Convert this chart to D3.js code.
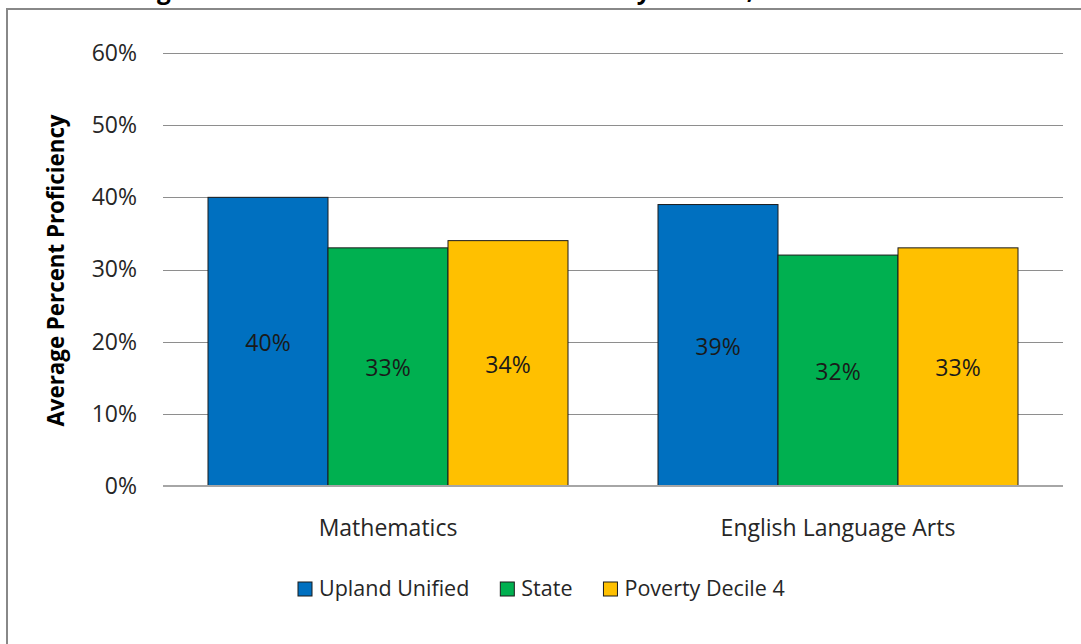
<!DOCTYPE html>
<html>
<head>
<meta charset="utf-8">
<script src="https://cdn.jsdelivr.net/npm/d3@7"></script>
<style>
  body { margin: 0; background: #fff; }
  text { font-family: "Open Sans", "Noto Sans", sans-serif; }
</style>
</head>
<body>
<svg id="chart" width="1081" height="644"></svg>
<script>
// Average percent proficiency by subject
const categories = ["Mathematics", "English Language Arts"];
const seriesNames = ["Upland Unified", "State", "Poverty Decile 4"];
const uplandUnified = [40, 39];
const stateAvg = [33, 32];
const povertyDecile4 = [34, 33];
const yTicks = [0, 10, 20, 30, 40, 50, 60];
const seriesColors = ["#0070C0", "#00B050", "#FFC000"];
const titleText = "Average Percent Proficient in Math and ELA by District, 2011";

const seriesValues = [uplandUnified, stateAvg, povertyDecile4];
const rows = categories.map((c, i) => ({
  category: c,
  values: seriesNames.map((s, j) => ({ series: s, value: seriesValues[j][i], color: seriesColors[j] }))
}));

const W = 1081, H = 644;
const plot = { left: 163, right: 1063, top: 53, bottom: 486 };

const svg = d3.select("#chart");
svg.append("rect").attr("width", W).attr("height", H).attr("fill", "#fff");

// title, sitting mostly above the top edge of the chart box
const title = svg.append("text")
  .attr("y", -1)
  .attr("font-size", 22)
  .attr("font-weight", "bold")
  .attr("fill", "#000")
  .text(titleText);
{
  const node = title.node();
  const gIdx = titleText.indexOf("g");
  const yIdx = titleText.indexOf("y", gIdx);
  const span = node.getSubStringLength(gIdx, yIdx - gIdx);
  const size = 22 * 480 / span;
  title.attr("font-size", size);
  const gStart = node.getSubStringLength(0, gIdx);
  title.attr("x", 157 - gStart);
}

// chart frame
svg.append("path")
  .attr("d", `M7,${H} V9 H${W}`)
  .attr("fill", "none")
  .attr("stroke", "#888")
  .attr("stroke-width", 2);

const y = d3.scaleLinear().domain([0, 60]).range([plot.bottom, plot.top]);
const x0 = d3.scaleBand().domain(categories).range([plot.left, plot.right]).padding(0);
const x1 = d3.scaleBand().domain(seriesNames).range([0, x0.bandwidth()])
  .paddingInner(0).paddingOuter(0.375);

// gridlines + tick labels
const yAxis = d3.axisLeft(y)
  .tickValues(yTicks)
  .tickSize(-(plot.right - plot.left))
  .tickPadding(26)
  .tickFormat(d => d + "%");

const gy = svg.append("g")
  .attr("transform", `translate(${plot.left},0)`)
  .call(yAxis);
gy.select(".domain").remove();
gy.selectAll(".tick line")
  .attr("stroke", "#8e8e8e")
  .attr("stroke-width", 1)
  .attr("shape-rendering", "crispEdges");
gy.selectAll(".tick text")
  .attr("font-size", 23)
  .attr("fill", "#262626")
  .attr("font-family", "\"Open Sans\", sans-serif");

// bars
const groups = svg.append("g").selectAll("g")
  .data(rows)
  .join("g")
  .attr("transform", d => `translate(${x0(d.category)},0)`);

groups.selectAll("rect")
  .data(d => d.values)
  .join("rect")
  .attr("x", d => x1(d.series))
  .attr("y", d => y(d.value))
  .attr("width", x1.bandwidth())
  .attr("height", d => y(0) - y(d.value))
  .attr("fill", d => d.color)
  .attr("stroke", "#1b1b1b")
  .attr("stroke-width", 1);

// value labels centred in each bar
groups.selectAll("text.val")
  .data(d => d.values)
  .join("text")
  .attr("class", "val")
  .attr("x", d => x1(d.series) + x1.bandwidth() / 2)
  .attr("y", d => (y(d.value) + y(0)) / 2 + 1)
  .attr("dy", "0.36em")
  .attr("text-anchor", "middle")
  .attr("font-size", 23)
  .attr("fill", "#1a1a1a")
  .text(d => d.value + "%");

// baseline
svg.append("line")
  .attr("x1", plot.left).attr("x2", plot.right)
  .attr("y1", y(0)).attr("y2", y(0))
  .attr("stroke", "#a6a6a6")
  .attr("stroke-width", 2);

// category labels
svg.append("g").selectAll("text")
  .data(categories)
  .join("text")
  .attr("x", d => x0(d) + x0.bandwidth() / 2)
  .attr("y", 536)
  .attr("text-anchor", "middle")
  .attr("font-size", 23)
  .attr("fill", "#262626")
  .text(d => d);

// y-axis title
svg.append("text")
  .attr("transform", `translate(64,${(plot.top + plot.bottom) / 2 + 1}) rotate(-90)`)
  .attr("text-anchor", "middle")
  .attr("font-size", 22.3)
  .attr("font-weight", "bold")
  .attr("fill", "#000")
  .text("Average Percent Proficiency");

// legend
const legend = svg.append("g");
const items = legend.selectAll("g")
  .data(seriesNames.map((s, i) => ({ name: s, color: seriesColors[i] })))
  .join("g");
items.append("rect")
  .attr("width", 14).attr("height", 14)
  .attr("y", -6)
  .attr("fill", d => d.color)
  .attr("stroke", "#1b1b1b")
  .attr("stroke-width", 1);
items.append("text")
  .attr("x", 21)
  .attr("dy", "0.35em")
  .attr("font-size", 21.5)
  .attr("fill", "#262626")
  .text(d => d.name);
let cursor = 0;
const itemGap = 31;
items.each(function () {
  const w = 21 + d3.select(this).select("text").node().getComputedTextLength();
  d3.select(this).attr("transform", `translate(${cursor},0)`);
  cursor += w + itemGap;
});
const legendWidth = cursor - itemGap;
legend.attr("transform", `translate(${Math.round(541.5 - legendWidth / 2)},588)`);
</script>
</body>
</html>
